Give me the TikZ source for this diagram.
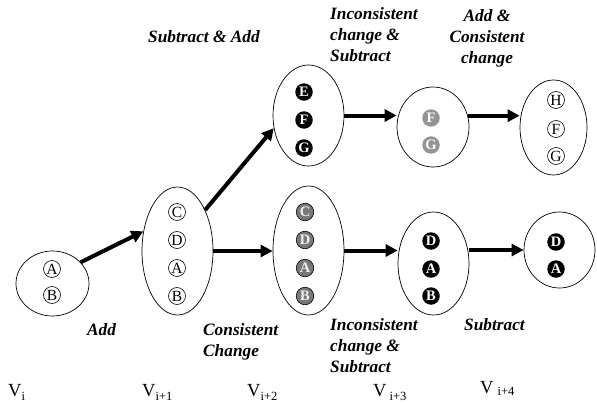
\documentclass[tikz,border=0pt]{standalone}
\usepackage{fontspec}
\setmainfont{Liberation Serif}
\usetikzlibrary{shapes.geometric,arrows.meta}
\newcommand{\sbx}[2]{\raisebox{#1}{\fontsize{12.5}{12.5}\selectfont #2}}
\begin{document}
\begin{tikzpicture}[x=1pt,y=-1pt,
  grp/.style={draw, ellipse, line width=0.7pt, inner sep=0pt},
  wc/.style={circle, draw, line width=0.6pt, minimum size=17pt, inner sep=0pt, font=\fontsize{15.5}{15.5}\selectfont},
  bc/.style={circle, fill=black, minimum size=17.5pt, inner sep=0pt, text=white, font=\fontsize{14.5}{14.5}\selectfont\bfseries},
  gc/.style={circle, draw=black, line width=0.6pt, fill=gray!95!black, minimum size=17.5pt, inner sep=0pt, text=white!88!gray, font=\fontsize{14.5}{14.5}\selectfont\bfseries},
  lc/.style={circle, fill=black!42, minimum size=17.5pt, inner sep=0pt, text=white, font=\fontsize{14.5}{14.5}\selectfont\bfseries},
  arr/.style={line width=4pt, -{Triangle[length=12pt,width=12pt]}},
  lab/.style={inner sep=0pt, font=\fontsize{17.3}{21}\selectfont\bfseries\itshape},
  vl/.style={inner sep=0pt, anchor=base west, font=\fontsize{18.5}{18.5}\selectfont}]
\useasboundingbox (0,0) rectangle (597,404);

% groups
\node[grp, minimum width=73pt, minimum height=65pt] (v0) at (52.5,283.5) {};
\node[grp, minimum width=71pt, minimum height=128pt] (v1) at (177.5,251) {};
\node[grp, minimum width=71pt, minimum height=101pt] (v2t) at (308.5,115.5) {};
\node[grp, minimum width=71pt, minimum height=129pt] (v2b) at (308.5,250.5) {};
\node[grp, minimum width=72pt, minimum height=80pt] (v3t) at (433,127) {};
\node[grp, minimum width=71pt, minimum height=103pt] (v3b) at (433.5,263.5) {};
\node[grp, minimum width=67pt, minimum height=95pt] (v4t) at (553.5,127.5) {};
\node[grp, minimum width=71pt, minimum height=76pt] (v4b) at (559.5,250) {};

% elements
\node[wc] (v0a) at (52,269) {A};
\node[wc] (v0b) at (52,295) {B};

\node[wc] (v1c) at (177,212) {C};
\node[wc] (v1d) at (177,240) {D};
\node[wc] (v1a) at (177,268) {A};
\node[wc] (v1b) at (177,296) {B};

\node[bc] (v2e) at (304,92) {E};
\node[bc] (v2f) at (304,120) {F};
\node[bc] (v2g) at (304,148) {G};

\node[gc] (v2c) at (305,212) {C};
\node[gc] (v2d) at (305,240) {D};
\node[gc] (v2a) at (305,268) {A};
\node[gc] (v2b2) at (305,296) {B};

\node[lc] (v3f) at (431,118) {F};
\node[lc] (v3g) at (431,145) {G};

\node[bc] (v3d) at (431,241) {D};
\node[bc] (v3a) at (431,269) {A};
\node[bc] (v3b2) at (431,296) {B};

\node[wc] (v4h) at (556,100) {H};
\node[wc] (v4f) at (556,129) {F};
\node[wc] (v4g) at (556,156) {G};

\node[bc] (v4d) at (556,242) {D};
\node[bc] (v4a) at (556,269) {A};

% arrows
\draw[arr] (v0.37) -- (v1.150);
\draw[arr] (v1.56) -- (v2t.200);
\draw[arr] (v1.east) -- (v1.east -| v2b.west);
\draw[arr] (v2t.east) -- (v2t.east -| v3t.west);
\draw[arr] (v3t.18) -- (v3t.18 -| v4t.west);
\draw[arr] (v2b.east) -- (v2b.east -| v3b.west);
\draw[arr] (v3b.east |- v4b.west) -- (v4b.west);

% labels
\node[lab, anchor=base west] (l1) at (148,43) {Subtract \& Add};
\node[lab, anchor=north west, align=left] (l2) at (330,7) {Inconsistent\\change \&\\Subtract};
\node[lab, anchor=north, align=center] (l3) at (487,9) {Add \&\\Consistent\\change};
\node[lab, anchor=base west] (l4) at (87,335) {Add};
\node[lab, anchor=north west, align=left] (l5) at (203,323) {Consistent\\Change};
\node[lab, anchor=north west, align=left] (l6) at (330,318) {Inconsistent\\change \&\\Subtract};
\node[lab, anchor=base west] (l7) at (464,330) {Subtract};

% version labels
\node[vl] (t0) at (8,396) {V\sbx{-4.5pt}{i}};
\node[vl] (t1) at (142,396) {V\sbx{-4.5pt}{i+1}};
\node[vl] (t2) at (247,396) {V\sbx{-4.5pt}{i+2}};
\node[vl] (t3) at (373,396) {V\hspace{3pt}\sbx{-4.5pt}{i+3}};
\node[vl] (t4) at (480,393) {V\hspace{4pt}\sbx{-2pt}{i+4}};
\end{tikzpicture}
\end{document}
